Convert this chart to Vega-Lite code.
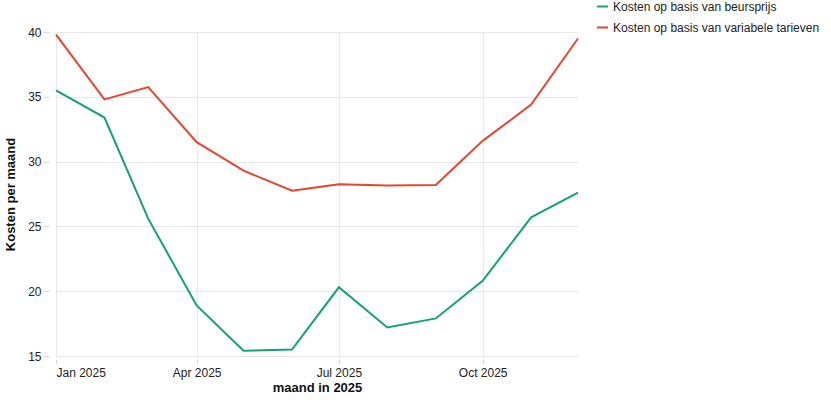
{
  "$schema": "https://vega.github.io/schema/vega-lite/v6.json",
  "width": 522,
  "height": 324,
  "autosize": "none",
  "padding": {"left": 56, "top": 32, "right": 253, "bottom": 44},
  "config": {
    "font": "Liberation Sans",
    "view": {"stroke": null},
    "axis": {
      "domain": false,
      "gridColor": "#e8e8e8",
      "tickColor": "#d9d9d9",
      "labelFontSize": 12,
      "labelColor": "#222",
      "titleFontSize": 13,
      "titleFontWeight": "bold",
      "titleColor": "#111"
    },
    "legend": {
      "labelFontSize": 12,
      "labelColor": "#222",
      "labelLimit": 0
    }
  },
  "data": {
    "values": [
      {"maand": "2025-01-01T00:00:00", "reeks": "Kosten op basis van beursprijs", "kosten": 35.5},
      {"maand": "2025-02-01T00:00:00", "reeks": "Kosten op basis van beursprijs", "kosten": 33.4},
      {"maand": "2025-03-01T00:00:00", "reeks": "Kosten op basis van beursprijs", "kosten": 25.6},
      {"maand": "2025-04-01T00:00:00", "reeks": "Kosten op basis van beursprijs", "kosten": 18.9},
      {"maand": "2025-05-01T00:00:00", "reeks": "Kosten op basis van beursprijs", "kosten": 15.4},
      {"maand": "2025-06-01T00:00:00", "reeks": "Kosten op basis van beursprijs", "kosten": 15.5},
      {"maand": "2025-07-01T00:00:00", "reeks": "Kosten op basis van beursprijs", "kosten": 20.3},
      {"maand": "2025-08-01T00:00:00", "reeks": "Kosten op basis van beursprijs", "kosten": 17.2},
      {"maand": "2025-09-01T00:00:00", "reeks": "Kosten op basis van beursprijs", "kosten": 17.9},
      {"maand": "2025-10-01T00:00:00", "reeks": "Kosten op basis van beursprijs", "kosten": 20.8},
      {"maand": "2025-11-01T00:00:00", "reeks": "Kosten op basis van beursprijs", "kosten": 25.7},
      {"maand": "2025-12-01T00:00:00", "reeks": "Kosten op basis van beursprijs", "kosten": 27.6},
      {"maand": "2025-01-01T00:00:00", "reeks": "Kosten op basis van variabele tarieven", "kosten": 39.8},
      {"maand": "2025-02-01T00:00:00", "reeks": "Kosten op basis van variabele tarieven", "kosten": 34.8},
      {"maand": "2025-03-01T00:00:00", "reeks": "Kosten op basis van variabele tarieven", "kosten": 35.75},
      {"maand": "2025-04-01T00:00:00", "reeks": "Kosten op basis van variabele tarieven", "kosten": 31.5},
      {"maand": "2025-05-01T00:00:00", "reeks": "Kosten op basis van variabele tarieven", "kosten": 29.3},
      {"maand": "2025-06-01T00:00:00", "reeks": "Kosten op basis van variabele tarieven", "kosten": 27.75},
      {"maand": "2025-07-01T00:00:00", "reeks": "Kosten op basis van variabele tarieven", "kosten": 28.25},
      {"maand": "2025-08-01T00:00:00", "reeks": "Kosten op basis van variabele tarieven", "kosten": 28.15},
      {"maand": "2025-09-01T00:00:00", "reeks": "Kosten op basis van variabele tarieven", "kosten": 28.2},
      {"maand": "2025-10-01T00:00:00", "reeks": "Kosten op basis van variabele tarieven", "kosten": 31.6},
      {"maand": "2025-11-01T00:00:00", "reeks": "Kosten op basis van variabele tarieven", "kosten": 34.4},
      {"maand": "2025-12-01T00:00:00", "reeks": "Kosten op basis van variabele tarieven", "kosten": 39.5}
    ]
  },
  "mark": {"type": "line", "strokeWidth": 2},
  "encoding": {
    "x": {
      "field": "maand",
      "type": "temporal",
      "title": "maand in 2025",
      "axis": {"format": "%b %Y", "tickCount": {"interval": "month", "step": 3}, "offset": 3, "tickSize": 5, "labelPadding": 3, "titlePadding": 3}
    },
    "y": {
      "field": "kosten",
      "type": "quantitative",
      "title": "Kosten per maand",
      "scale": {"domain": [15, 40], "nice": false, "zero": false},
      "axis": {"values": [15, 20, 25, 30, 35, 40], "offset": 7, "tickSize": 6, "labelPadding": 2, "titlePadding": 10}
    },
    "color": {
      "field": "reeks",
      "type": "nominal",
      "scale": {"range": ["#12a371", "#e6452e"]},
      "legend": {
        "title": null,
        "orient": "none",
        "legendX": 540,
        "legendY": -32,
        "symbolType": "stroke",
        "symbolStrokeWidth": 2,
        "symbolSize": 120,
        "rowPadding": 8
      }
    }
  }
}
